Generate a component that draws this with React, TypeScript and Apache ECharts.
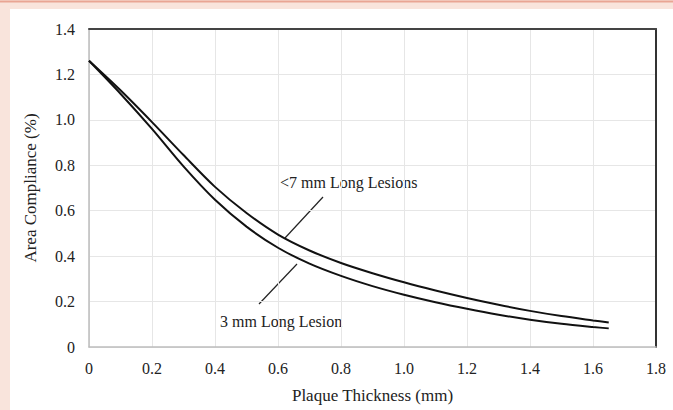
import React, { useEffect, useRef } from "react";
import * as echarts from "echarts";

const thickness = [0, 0.1, 0.2, 0.3, 0.4, 0.5, 0.6, 0.7, 0.8, 0.9, 1.0, 1.1, 1.2, 1.3, 1.4, 1.5, 1.6, 1.65];
const longLesions = [1.26, 1.13, 0.99, 0.845, 0.705, 0.59, 0.495, 0.425, 0.37, 0.325, 0.285, 0.249, 0.216, 0.186, 0.159, 0.136, 0.117, 0.108];
const shortLesion = [1.26, 1.115, 0.96, 0.795, 0.648, 0.53, 0.437, 0.367, 0.313, 0.268, 0.23, 0.197, 0.168, 0.142, 0.12, 0.102, 0.088, 0.082];
const xTicks = ["0", "0.2", "0.4", "0.6", "0.8", "1.0", "1.2", "1.4", "1.6", "1.8"];
const yTicks = ["0", "0.2", "0.4", "0.6", "0.8", "1.0", "1.2", "1.4"];
const labelLong = "<7 mm Long Lesions";
const labelShort = "3 mm Long Lesion";

const FONT = "'Liberation Serif', 'DejaVu Serif', serif";

export default function App() {
  const ref = useRef<HTMLDivElement>(null);
  useEffect(() => {
    document.body.style.margin = "0";
    const chart = echarts.init(ref.current!, null, { renderer: "svg" });
    const fmtX = (v: number) => xTicks[Math.round(v / 0.2)] ?? "";
    const fmtY = (v: number) => yTicks[Math.round(v / 0.2)] ?? "";
    chart.setOption({
      animation: false,
      backgroundColor: "#f9e4dc",
      graphic: [
        { type: "rect", shape: { x: 10, y: 9, width: 663, height: 401 }, style: { fill: "#ffffff" }, z: -10 },
        { type: "line", shape: { x1: 0, y1: 1.5, x2: 673, y2: 1.5 }, style: { stroke: "#e9a594", lineWidth: 2 }, z: -5 },
        { type: "text", x: 280, y: 182, style: { text: labelLong, font: `16px ${FONT}`, fill: "#222", verticalAlign: "middle" } },
        { type: "line", shape: { x1: 323, y1: 197, x2: 285, y2: 238 }, style: { stroke: "#222", lineWidth: 1.2 } },
        { type: "text", x: 220, y: 321, style: { text: labelShort, font: `16px ${FONT}`, fill: "#222", verticalAlign: "middle" } },
        { type: "line", shape: { x1: 259, y1: 304, x2: 297, y2: 264 }, style: { stroke: "#222", lineWidth: 1.2 } },
      ],
      grid: { left: 89, top: 29, right: 17, bottom: 63 },
      xAxis: [
        {
          type: "value",
          min: 0,
          max: 1.8,
          interval: 0.2,
          name: "Plaque Thickness (mm)",
          nameLocation: "middle",
          nameGap: 40,
          nameTextStyle: { fontFamily: FONT, fontSize: 17, color: "#222" },
          axisLine: { show: true, lineStyle: { color: "#bdbdbd", width: 1.5 } },
          axisTick: { show: false },
          axisLabel: { fontFamily: FONT, fontSize: 16, color: "#222", margin: 13, formatter: fmtX },
          splitLine: { show: true, lineStyle: { color: "#e6e6e6", width: 1 } },
        },
        {
          type: "value",
          position: "top",
          min: 0,
          max: 1.8,
          interval: 0.2,
          axisLine: { show: true, onZero: false, lineStyle: { color: "#444", width: 2 } },
          axisTick: { show: false },
          axisLabel: { show: false },
          splitLine: { show: false },
        },
      ],
      yAxis: [
        {
          type: "value",
          min: 0,
          max: 1.4,
          interval: 0.2,
          name: "Area Compliance (%)",
          nameLocation: "middle",
          nameGap: 50,
          nameTextStyle: { fontFamily: FONT, fontSize: 17, color: "#222" },
          axisLine: { show: true, lineStyle: { color: "#bdbdbd", width: 1.5 } },
          axisTick: { show: false },
          axisLabel: { fontFamily: FONT, fontSize: 16, color: "#222", margin: 14, formatter: fmtY },
          splitLine: { show: true, lineStyle: { color: "#e6e6e6", width: 1 } },
        },
        {
          type: "value",
          position: "right",
          min: 0,
          max: 1.4,
          interval: 0.2,
          axisLine: { show: true, onZero: false, lineStyle: { color: "#333", width: 2 } },
          axisTick: { show: false },
          axisLabel: { show: false },
          splitLine: { show: false },
        },
      ],
      series: [
        {
          name: labelLong,
          type: "line",
          smooth: 0.3,
          showSymbol: false,
          data: thickness.map((x, i) => [x, longLesions[i]]),
          lineStyle: { color: "#111", width: 2 },
        },
        {
          name: labelShort,
          type: "line",
          smooth: 0.3,
          showSymbol: false,
          data: thickness.map((x, i) => [x, shortLesion[i]]),
          lineStyle: { color: "#111", width: 2 },
        },
      ],
    });
    return () => chart.dispose();
  }, []);
  return <div ref={ref} style={{ width: 673, height: 410 }} />;
}
